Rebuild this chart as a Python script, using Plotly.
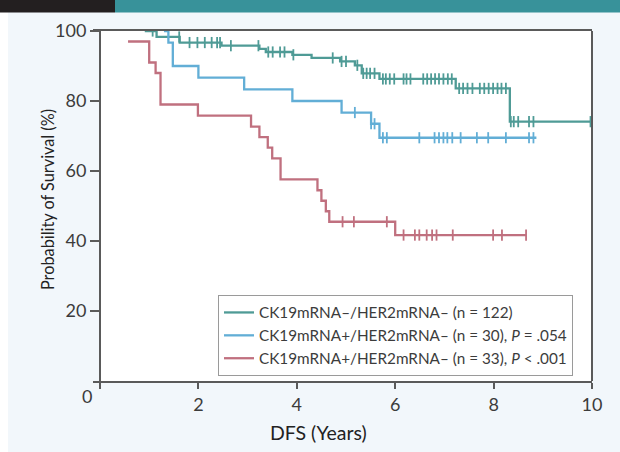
import plotly.graph_objects as go

# ---- data ----
green_name = "CK19mRNA–/HER2mRNA– (n = 122)"
green_t = [0.91, 1.15, 1.62, 2.47, 3.24, 3.37, 3.91, 4.30, 4.88, 5.18, 5.32, 5.68, 7.23, 8.33]
green_s = [100.0, 98.3, 96.7, 95.8, 94.9, 94.0, 93.2, 92.3, 91.3, 90.2, 87.9, 86.3, 83.6, 74.1]
green_end = 9.97
green_cens = [1.07, 1.61, 1.82, 1.98, 2.13, 2.27, 2.38, 2.44, 2.66, 3.22, 3.42, 3.51, 3.66,
              3.75, 3.93, 4.73, 4.91, 5.00, 5.23, 5.35, 5.42, 5.49, 5.58, 5.75, 5.81, 5.89,
              5.98, 6.17, 6.23, 6.31, 6.57, 6.65, 6.73, 6.81, 6.89, 6.98, 7.07, 7.15, 7.30,
              7.38, 7.47, 7.57, 7.72, 7.81, 7.90, 7.99, 8.08, 8.16, 8.25, 8.35, 8.41, 8.50,
              8.72, 8.81, 9.97]

blue_name = "CK19mRNA+/HER2mRNA– (n = 30), <i>P</i> = .054"
blue_t = [1.30, 1.39, 1.48, 2.00, 2.93, 3.91, 4.91, 5.51, 5.68]
blue_s = [100.0, 96.7, 90.0, 86.7, 83.3, 80.0, 76.7, 73.5, 69.5]
blue_end = 8.87
blue_cens = [5.18, 5.51, 5.58, 5.75, 5.83, 6.49, 6.80, 6.89, 6.98, 7.06, 7.16, 7.33, 7.66,
             7.89, 8.25, 8.72, 8.81]

red_name = "CK19mRNA+/HER2mRNA– (n = 33), <i>P</i> < .001"
red_t = [0.57, 1.00, 1.13, 1.23, 1.99, 3.07, 3.24, 3.41, 3.50, 3.67, 4.42, 4.50, 4.59, 4.66, 6.00]
red_s = [97.0, 91.0, 88.0, 79.0, 75.8, 72.7, 69.7, 66.7, 63.6, 57.6, 54.5, 51.5, 48.5, 45.5, 41.7]
red_end = 8.66
red_cens = [4.93, 5.16, 5.83, 6.17, 6.40, 6.49, 6.64, 6.75, 6.84, 7.17, 7.99, 8.17, 8.66]

x_ticks = [0, 2, 4, 6, 8, 10]
x_ticklabels = ["", "2", "4", "6", "8", "10"]
y_ticks = [20, 40, 60, 80, 100]
x_title = "DFS (Years)"
y_title = "Probability of Survival (%)"

GREEN = "#4f9b96"
BLUE = "#62aed6"
RED = "#c0707f"
AX = "#5a5a5a"
TXT = "#3c3c3c"
FONT = "Lato, 'Open Sans', sans-serif"


def step_value(times, surv, t):
    v = surv[0]
    for ti, si in zip(times, surv):
        if ti <= t:
            v = si
    return v


fig = go.Figure()
groups = [
    (green_name, green_t, green_s, green_end, green_cens, GREEN),
    (blue_name, blue_t, blue_s, blue_end, blue_cens, BLUE),
    (red_name, red_t, red_s, red_end, red_cens, RED),
]
for name, t, s, end, cens, col in groups:
    fig.add_trace(go.Scatter(
        x=t + [end], y=s + [s[-1]], mode="lines", name=name,
        line=dict(color=col, width=2.3, shape="hv"), hoverinfo="skip"))
for name, t, s, end, cens, col in groups:
    fig.add_trace(go.Scatter(
        x=cens, y=[step_value(t, s, c) for c in cens], mode="markers",
        showlegend=False, hoverinfo="skip",
        marker=dict(symbol="line-ns", size=8, line=dict(color=col, width=1.8))))

# paper geometry: plot area from px 93..592 (x), 31..381 (y)
L, R, T, B = 93, 28, 31, 71
W, H = 620, 452
pw, ph = W - L - R, H - T - B


def px(xp):
    return (xp - L) / pw


def py(yp):
    return (H - B - yp) / ph


shapes = [
    dict(type="rect", xref="paper", yref="paper", x0=px(8), x1=px(620), y0=py(452), y1=py(12),
         fillcolor="#f2f7fb", line=dict(width=0), layer="below"),
    dict(type="rect", xref="paper", yref="paper", x0=px(0), x1=px(115), y0=py(12.5), y1=py(0),
         fillcolor="#231f20", line=dict(width=0), layer="below"),
    dict(type="rect", xref="paper", yref="paper", x0=px(115), x1=px(620), y0=py(12.5), y1=py(0),
         fillcolor="#38929a", line=dict(width=0), layer="below"),
    dict(type="rect", xref="paper", yref="paper", x0=px(100), x1=1, y0=0, y1=1,
         fillcolor="white", line=dict(width=0), layer="below"),
    dict(type="line", xref="paper", yref="paper", x0=1, x1=1, y0=0, y1=1,
         line=dict(color=AX, width=2), layer="above"),
]

annotations = [
    dict(text="0", xref="paper", yref="paper", x=px(87), y=py(396), showarrow=False,
         font=dict(family=FONT, size=18, color=TXT), xanchor="center", yanchor="middle"),
    dict(text=x_title, xref="paper", yref="paper", x=px(318), y=py(432), showarrow=False,
         font=dict(family=FONT, size=19.5, color="#222"), xanchor="center", yanchor="middle"),
    dict(text=y_title, xref="paper", yref="paper", x=px(47), y=py(200), showarrow=False,
         textangle=-90, font=dict(family=FONT, size=16.3, color="#222"),
         xanchor="center", yanchor="middle"),
]

fig.update_layout(
    width=W, height=H,
    margin=dict(l=L, r=R, t=T, b=B, pad=0),
    paper_bgcolor="white", plot_bgcolor="rgba(0,0,0,0)",
    font=dict(family=FONT, size=17, color=TXT),
    shapes=shapes, annotations=annotations,
    showlegend=True,
    legend=dict(x=px(218), y=py(295), xanchor="left", yanchor="top",
                bgcolor="white", bordercolor="#9a9a9a", borderwidth=1,
                font=dict(family=FONT, size=15.3, color=TXT),
                tracegroupgap=0, itemwidth=30),
    xaxis=dict(range=[-(100 - L) / 49.2, 10], tickvals=x_ticks, ticktext=x_ticklabels,
               showgrid=False, zeroline=False, showline=True, linecolor=AX, linewidth=2,
               mirror=True, ticks="outside", ticklen=6, tickwidth=1.8, tickcolor=AX,
               tickfont=dict(family=FONT, size=18, color=TXT)),
    yaxis=dict(range=[0, 100], tickvals=y_ticks, showgrid=False, zeroline=False,
               showline=True, linecolor=AX, linewidth=2, anchor="free", position=px(100),
               ticks="outside", ticklen=9, tickwidth=1.8, tickcolor=AX,
               tickfont=dict(family=FONT, size=18, color=TXT)),
)

fig.write_html("out.html", config={"displayModeBar": False},
               post_script="document.body.style.margin='0';document.body.style.overflow='hidden';")
